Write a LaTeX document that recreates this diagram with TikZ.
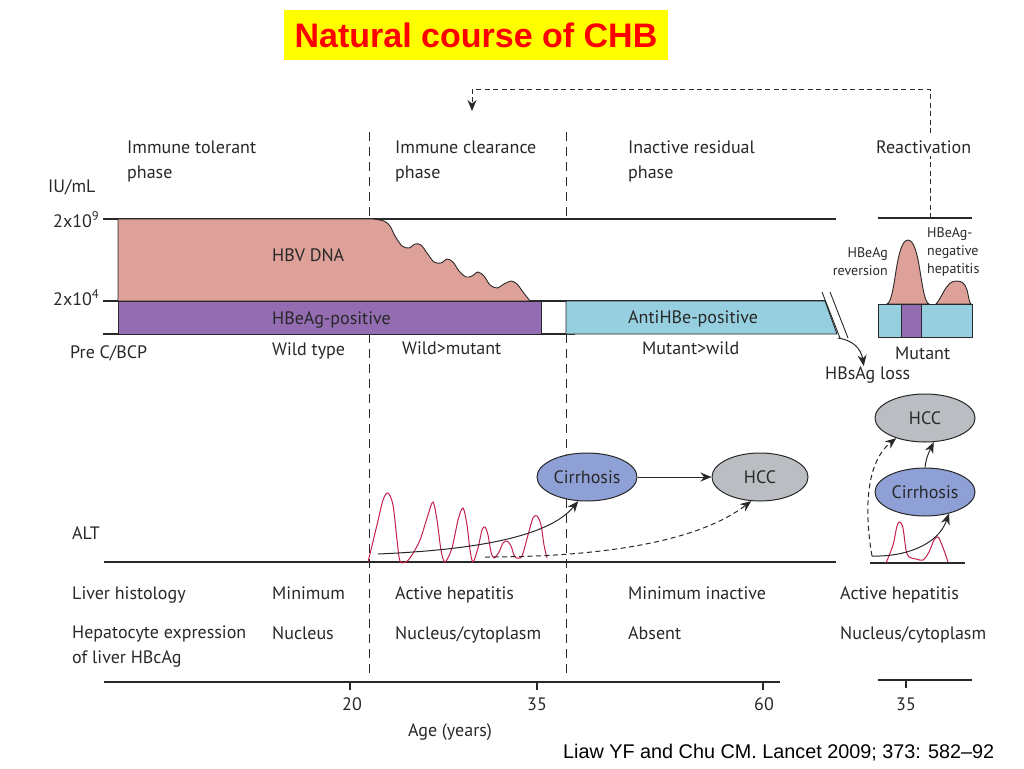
\documentclass[tikz,border=0pt]{standalone}
\usepackage{fontspec}
\setmainfont{PT Sans}
\newfontfamily\arialfont{Liberation Sans}
\usetikzlibrary{shapes.geometric,arrows.meta}
\definecolor{ink}{RGB}{40,40,40}
\definecolor{dnapink}{RGB}{222,161,154}
\definecolor{hbeag}{RGB}{147,108,178}
\definecolor{antihbe}{RGB}{150,208,224}
\definecolor{cirblue}{RGB}{143,160,214}
\definecolor{hccgray}{RGB}{186,190,194}
\definecolor{altred}{RGB}{196,32,74}
\definecolor{titleyellow}{RGB}{255,255,0}
\definecolor{titlered}{RGB}{255,0,0}
\newcommand\fsmain{\fontsize{18}{24.5}\selectfont}
\newcommand\fssmall{\fontsize{14}{18}\selectfont}
\begin{document}
\begin{tikzpicture}[x=1pt,y=-1pt,
  txt/.style={anchor=base west,inner sep=0pt,font=\fsmain,text=ink},
  txtc/.style={anchor=base,inner sep=0pt,font=\fsmain,text=ink},
  small/.style={inner sep=0pt,font=\fssmall,text=ink},
  axisline/.style={draw=ink,line width=1.1pt},
  phaseline/.style={draw=ink,line width=1pt,dash pattern=on 9pt off 6pt},
  outl/.style={draw=ink,line width=0.9pt},
  oval/.style={ellipse,draw=ink,line width=1pt,minimum width=100pt,minimum height=48pt,inner sep=0pt,font=\fsmain,text=ink},
  arr/.style={draw=ink,line width=1pt,-{Stealth[length=11pt,width=9pt]}},
  darr/.style={arr,dash pattern=on 5pt off 3.5pt},
  altcurve/.style={draw=altred,line width=1pt}]
\useasboundingbox (0,0) rectangle (1024,768);

% title
\node[fill=titleyellow,minimum width=384pt,minimum height=50pt,inner sep=0pt,
      font=\arialfont\bfseries\fontsize{34}{38}\selectfont,text=titlered] (title) at (476,35) {Natural course of CHB};

% phase separators
\draw[phaseline] (369,132) -- (369,219);
\draw[phaseline] (369,334) -- (369,678);
\draw[phaseline] (566,132) -- (566,219);
\draw[phaseline] (566,334) -- (566,678);

% horizontal scale lines
\draw[axisline] (103,219) -- (836,219);
\draw[axisline] (103,301) -- (825,301);
\draw[axisline] (103,334) -- (575,334);

% HBV DNA area
\filldraw[fill=dnapink,outl] (118,301) -- (118,219) -- (373,219)
  -- plot[smooth,tension=0.5] coordinates {(373,219) (384,221) (390,226) (395,236) (402,246) (409,248) (415,244) (421,245) (427,253) (434,262) (441,263) (447,259) (453,262) (459,271) (466,277) (472,276) (478,272) (484,276) (490,285) (497,288) (504,284) (511,281) (517,284) (523,292) (530,301)}
  -- cycle;
\node[txt] (dna) at (272,261) {HBV DNA};

% HBeAg / antiHBe bars
\filldraw[fill=hbeag,outl] (118,301) rectangle (541,334);
\node[txt] (hbeagpos) at (272,324) {HBeAg-positive};
\draw[outl] (541,301) rectangle (566,334);
\filldraw[fill=antihbe,outl] (566,301) -- (825,301) -- (837,334) -- (566,334) -- cycle;
\node[txt] (antihbe) at (628,323) {AntiHBe-positive};
\draw[outl] (822,292) -- (840,338);
\draw[outl] (830,292) -- (848,338);

% left axis labels
\node[txt] (iu) at (48,192) {IU/mL};
\node[txt] (e9) at (53,227) {2x10\textsuperscript{9}};
\node[txt] (e4) at (53,305) {2x10\textsuperscript{4}};

% phase titles
\node[txt,anchor=north west,align=left] (ph1) at (127,141) {Immune tolerant\\phase};
\node[txt,anchor=north west,align=left] (ph2) at (395,141) {Immune clearance\\phase};
\node[txt,anchor=north west,align=left] (ph3) at (628,141) {Inactive residual\\phase};

% reactivation connector
\coordinate (reacttop) at (930,218);
\coordinate (clearin) at (472,111);
\draw[darr] (reacttop) -- (930,89) -- (472,89) -- (clearin);
\node[txt,fill=white,inner ysep=3pt] (react) at (876,153) {Reactivation};

% mutant row
\node[txt] (precore) at (70,358) {Pre C/BCP};
\node[txt] (wild) at (272,355) {Wild type};
\node[txt] (wildmut) at (402,354) {Wild>mutant};
\node[txt] (mutwild) at (642,354) {Mutant>wild};
\node[txt] (mutant) at (895,359) {Mutant};
\node[txt] (loss) at (825,379) {HBsAg loss};
\coordinate (breakend) at (838,338);
\draw[arr] (breakend) .. controls (852,340) and (861,348) .. ([xshift=-4pt]loss.north);

% reactivation mini panel
\draw[axisline] (878,218) -- (972,218);
\filldraw[fill=dnapink,outl] (887,304) .. controls (896,300) and (895,241) .. (908,240)
  .. controls (921,241) and (920,300) .. (929,304) -- cycle;
\filldraw[fill=dnapink,outl] (936,304) .. controls (942,298) and (946,281) .. (956,281)
  .. controls (963,281) and (965,284) .. (967,290) .. controls (969,298) and (969,302) .. (971,304) -- cycle;
\filldraw[fill=antihbe,outl] (878,304) rectangle (972,337);
\filldraw[fill=hbeag,outl] (901,304) rectangle (921,337);
\node[small,anchor=north east,align=right] (rev) at (888,247) {HBeAg\\reversion};
\node[small,anchor=north west,align=left] (neg) at (927,227) {HBeAg-\\negative\\hepatitis};

% ALT
\node[txt] (alt) at (72,539) {ALT};
\draw[axisline] (104,562) -- (836,562);
\draw[altcurve] plot[smooth,tension=0.5] coordinates {(368,562) (377,525) (383,500) (388,493) (393,505) (397,540) (400,561) (406,562) (412,555) (420,540) (428,515) (433,502) (437,520) (441,550) (445,562) (452,548) (458,520) (463,508) (467,525) (470,550) (473,562) (478,548) (482,530) (485,527) (488,535) (491,552) (494,558) (499,552) (503,543) (507,541) (511,546) (514,555) (517,558) (522,556) (528,535) (533,518) (537,516) (541,525) (544,545) (547,558)};

\node[oval,fill=cirblue] (cir) at (587,477) {Cirrhosis};
\node[oval,fill=hccgray,minimum width=96pt] (hcc) at (760,477) {HCC};
\draw[arr] (cir.east) -- (hcc.west);
\coordinate (altstart) at (378,554);
\coordinate (altdash) at (485,557);
\draw[arr] (altstart) .. controls (470,550) and (548,538) .. (cir.250);
\draw[darr] (altdash) .. controls (610,557) and (700,540) .. (hcc.250);

% right ALT mini panel
\node[oval,fill=hccgray] (hccr) at (925,418) {HCC};
\node[oval,fill=cirblue] (cirr) at (925,492) {Cirrhosis};
\draw[axisline] (870,563) -- (965,563);
\draw[altcurve] plot[smooth,tension=0.5] coordinates {(886,563) (893,545) (897,526) (900,522) (903,528) (906,550) (909,557) (916,559) (923,560) (929,552) (934,540) (938,537) (942,545) (946,556) (948,562)};
\coordinate (altr) at (872,556);
\draw[arr] (altr) .. controls (905,557) and (938,545) .. (cirr.318);
\draw[darr] (altr) .. controls (864,510) and (866,462) .. (hccr.215);
\draw[arr] (cirr.north) .. controls (926,458) and (929,452) .. (hccr.290);

% histology rows
\node[txt] (hist) at (72,599) {Liver histology};
\node[txt] (h1) at (272,599) {Minimum};
\node[txt] (h2) at (395,599) {Active hepatitis};
\node[txt] (h3) at (628,599) {Minimum inactive};
\node[txt] (h4) at (840,599) {Active hepatitis};
\node[txt,anchor=north west,align=left] (hep) at (72,626) {Hepatocyte expression\\of liver HBcAg};
\node[txt] (n1) at (272,639) {Nucleus};
\node[txt] (n2) at (395,639) {Nucleus/cytoplasm};
\node[txt] (n3) at (628,639) {Absent};
\node[txt] (n4) at (840,639) {Nucleus/cytoplasm};

% age axis
\draw[axisline] (104,682) -- (780,682);
\draw[axisline] (350,682) -- (350,690);
\draw[axisline] (537,682) -- (537,690);
\draw[axisline] (763,682) -- (763,690);
\node[txtc] (a20) at (352,710) {20};
\node[txtc] (a35) at (537,710) {35};
\node[txtc] (a60) at (764,710) {60};
\draw[axisline] (878,680) -- (972,680);
\draw[axisline] (906,680) -- (906,688);
\node[txtc] (a35r) at (906,710) {35};
\node[txtc] (age) at (450,736) {Age (years)};

% citation
\node[anchor=base west,inner sep=0pt,font=\arialfont\fontsize{19.8}{22}\selectfont,text=black] (cite) at (563,758) {Liaw YF and Chu CM. Lancet 2009; 373: 582–92};
\end{tikzpicture}
\end{document}
